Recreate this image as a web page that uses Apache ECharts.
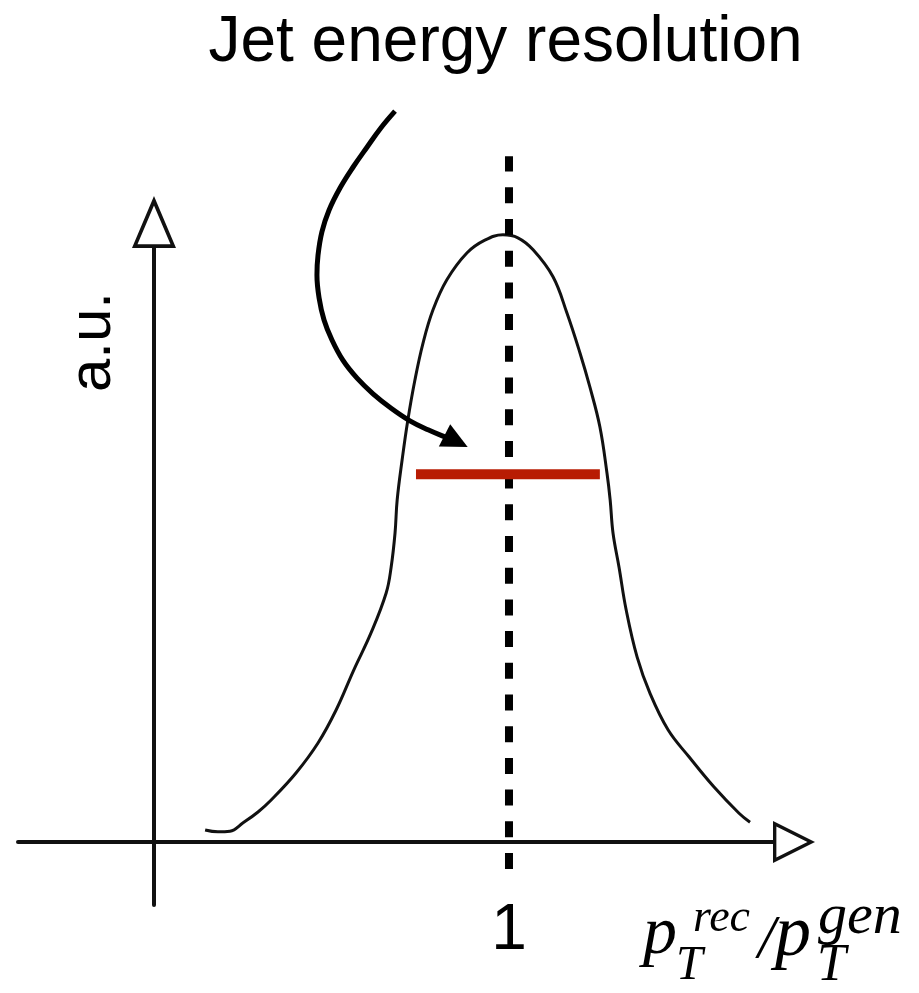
<!DOCTYPE html>
<html>
<head>
<meta charset="utf-8">
<script src="https://cdn.jsdelivr.net/npm/echarts@6/dist/echarts.min.js"></script>
<style>
html,body{margin:0;padding:0;background:#fff;}
#chart{width:919px;height:993px;}
</style>
</head>
<body>
<div id="chart"></div>
<script>
// ---- data (in axis units: x = pT_rec/pT_gen, y = a.u.) ----
const curveX = [0.144,0.180,0.214,0.251,0.293,0.330,0.400,0.462,0.513,0.563,0.611,0.654,0.668,0.679,0.685,0.699,0.715,0.735,0.758,0.786,0.825,0.882,0.932,0.983,1.025,1.068,1.124,1.163,1.200,1.228,1.256,1.276,1.285,1.293,1.310,1.330,1.361,1.397,1.448,1.507,1.577,1.648,1.679];
const curveY = [0.020,0.017,0.018,0.032,0.050,0.070,0.115,0.165,0.220,0.287,0.348,0.415,0.458,0.515,0.570,0.637,0.703,0.770,0.832,0.887,0.937,0.982,1.003,1.012,1.007,0.987,0.942,0.882,0.815,0.758,0.692,0.615,0.570,0.515,0.458,0.387,0.308,0.248,0.187,0.142,0.092,0.048,0.033];

const meanX = [1, 1];
const meanY = [-0.045, 1.143];

const widthX = [0.738, 1.256];
const widthY = [0.613, 0.613];

const arrowX = [0.679,0.639,0.600,0.561,0.524,0.493,0.473,0.462,0.459,0.465,0.479,0.501,0.532,0.572,0.617,0.668,0.721,0.772,0.820,0.851];
const arrowY = [1.218,1.190,1.158,1.125,1.090,1.053,1.017,0.978,0.945,0.907,0.870,0.837,0.803,0.773,0.747,0.723,0.702,0.687,0.675,0.668];

const xTickValues = [1];
const xTickLabels = ['1'];

const titleText = 'Jet energy resolution';
const yAxisTitle = 'a.u.';

// ---- build ----
const zip = (xs, ys) => xs.map((x, i) => [x, ys[i]]);
const arrowData = zip(arrowX, arrowY).map((p, i, arr) =>
  i === arr.length - 1
    ? { value: p, symbol: 'triangle', symbolSize: [25, 26], symbolRotate: -117 }
    : { value: p });

// hollow triangles (outer clockwise, inner counter-clockwise) pointing up
const yArrowPath = 'path://M42.5,0 L85,100 L0,100 Z M42.5,17.9 L10.6,93 L74.4,93 Z';
const xArrowPath = 'path://M50,0 L100,100 L0,100 Z M50,17.9 L12.95,92 L87.05,92 Z';

const axisColor = '#111';
const sans = '"Liberation Sans", Arial, Helvetica, sans-serif';
const serif = '"Liberation Serif", "Times New Roman", serif';

const chart = echarts.init(document.getElementById('chart'), null, { renderer: 'canvas' });
chart.setOption({
  animation: false,
  backgroundColor: '#fff',
  grid: { left: 18, top: 248, width: 755, height: 657, containLabel: false, outerBoundsMode: 'none' },
  xAxis: {
    type: 'value', min: -0.3831, max: 1.7437,
    axisLine: { onZero: true, lineStyle: { color: axisColor, width: 4 },
      symbol: ['none', xArrowPath], symbolSize: [42, 42], symbolOffset: [0, 21] },
    axisTick: { show: false },
    splitLine: { show: false },
    axisLabel: {
      customValues: xTickValues,
      formatter: (v) => { const i = xTickValues.indexOf(v); return i >= 0 ? xTickLabels[i] : ''; },
      fontSize: 64, fontFamily: sans, color: '#000', margin: -6
    }
  },
  yAxis: {
    type: 'value', min: -0.105, max: 0.99,
    axisLine: { onZero: true, lineStyle: { color: axisColor, width: 4 },
      symbol: ['none', yArrowPath], symbolSize: [44, 52], symbolOffset: [0, 26] },
    axisTick: { show: false },
    splitLine: { show: false },
    axisLabel: { show: false }
  },
  graphic: [
    { type: 'text', x: 505.5, y: 43, style: { text: titleText, font: '64px ' + sans, fill: '#000', textAlign: 'center', textVerticalAlign: 'middle', align: 'center', verticalAlign: 'middle' } },
    { type: 'text', x: 93, y: 342, rotation: Math.PI / 2, style: { text: yAxisTitle, font: '60px ' + sans, fill: '#000', textAlign: 'center', textVerticalAlign: 'middle', align: 'center', verticalAlign: 'middle' } },
    { type: 'text', x: 643, y: 935, style: { text: 'p', font: 'italic 68px ' + serif, fill: '#000', textVerticalAlign: 'middle', verticalAlign: 'middle' } },
    { type: 'text', x: 693, y: 919, style: { text: 'rec', font: 'italic 46px ' + serif, fill: '#000', textVerticalAlign: 'middle', verticalAlign: 'middle' } },
    { type: 'text', x: 676, y: 966, style: { text: 'T', font: 'italic 48px ' + serif, fill: '#000', textVerticalAlign: 'middle', verticalAlign: 'middle' } },
    { type: 'text', x: 758, y: 941, style: { text: '/', font: 'italic 62px ' + serif, fill: '#000', textVerticalAlign: 'middle', verticalAlign: 'middle' } },
    { type: 'text', x: 775, y: 936, style: { text: 'p', font: 'italic 72px ' + serif, fill: '#000', textVerticalAlign: 'middle', verticalAlign: 'middle' } },
    { type: 'text', x: 818, y: 918, style: { text: 'gen', font: 'italic 58px ' + serif, fill: '#000', textVerticalAlign: 'middle', verticalAlign: 'middle' } },
    { type: 'text', x: 817, y: 966, style: { text: 'T', font: 'italic 52px ' + serif, fill: '#000', textVerticalAlign: 'middle', verticalAlign: 'middle' } }
  ],
  series: [
    { type: 'line', name: 'response', data: zip(curveX, curveY), smooth: 0.4, symbol: 'none', clip: false,
      lineStyle: { color: '#111', width: 3 }, z: 3 },
    { type: 'line', name: 'mean', data: zip(meanX, meanY), symbol: 'none', clip: false,
      lineStyle: { color: '#000', width: 8, type: [16, 15.7], cap: 'butt' }, z: 4 },
    { type: 'line', name: 'resolution', data: zip(widthX, widthY), symbol: 'none', clip: false,
      lineStyle: { color: '#b81c03', width: 10, cap: 'butt' }, z: 5 },
    { type: 'line', name: 'arrow', data: arrowData, smooth: 0.4, symbol: 'none', showSymbol: true, clip: false,
      itemStyle: { color: '#000' },
      lineStyle: { color: '#000', width: 5 }, z: 6 }
  ]
});
</script>
</body>
</html>
